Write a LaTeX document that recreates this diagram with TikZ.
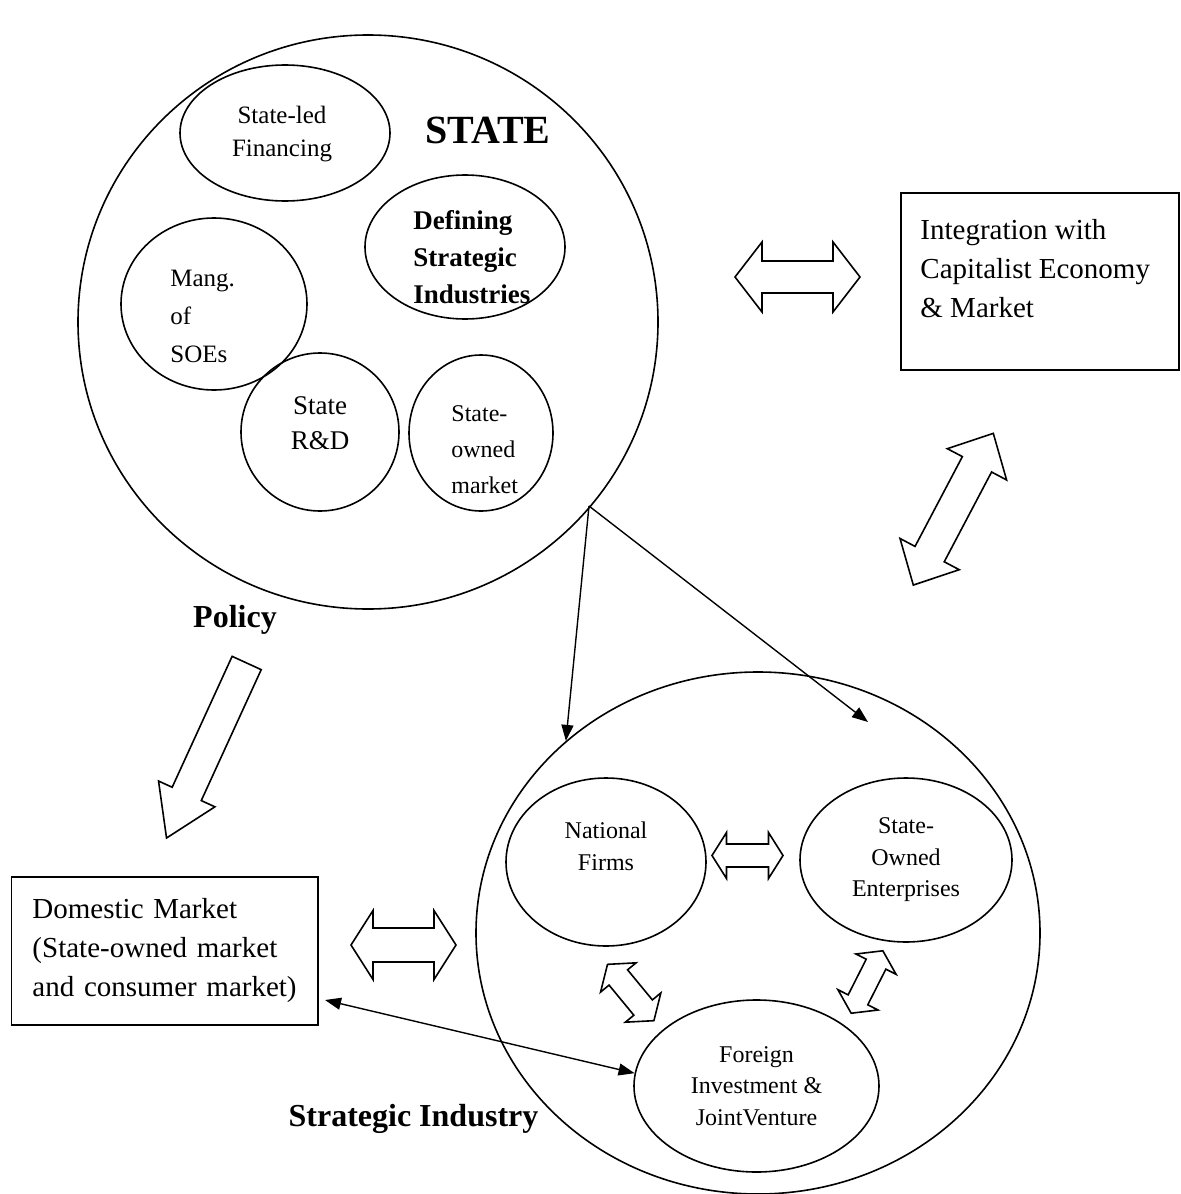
\documentclass[tikz,border=0pt]{standalone}
\usepackage{fontspec}
\setmainfont{Liberation Serif}
\usetikzlibrary{arrows.meta, shapes.geometric}

\tikzset{
  pics/dblarrow/.style n args={4}{code={
    \draw[blockarrow] (-#1/2,0) -- (-#1/2+#4,#3/2) -- (-#1/2+#4,#2/2) -- (#1/2-#4,#2/2)
      -- (#1/2-#4,#3/2) -- (#1/2,0) -- (#1/2-#4,-#3/2) -- (#1/2-#4,-#2/2)
      -- (-#1/2+#4,-#2/2) -- (-#1/2+#4,-#3/2) -- cycle;
  }},
  pics/sglarrow/.style n args={4}{code={
    \draw[blockarrow] (-#1/2,#2/2) -- (#1/2-#4,#2/2) -- (#1/2-#4,#3/2) -- (#1/2,0)
      -- (#1/2-#4,-#3/2) -- (#1/2-#4,-#2/2) -- (-#1/2,-#2/2) -- cycle;
  }},
}

\begin{document}
\begin{tikzpicture}[x=0.5pt, y=-0.5pt, >={Triangle[length=8pt, width=6pt]},
  bubble/.style={ellipse, draw, line width=0.8pt, inner sep=0pt, align=center},
  infobox/.style={rectangle, draw, line width=0.8pt, align=left, inner ysep=0pt},
  blockarrow/.style={line width=0.8pt, line join=miter},
  thinarrow/.style={line width=0.7pt},
  caption/.style={inner sep=0pt, align=left},
  bigtext/.style={font=\fontsize{14.5}{19.5}\selectfont},
  smalltext/.style={font=\fontsize{12}{15.75}\selectfont},
  heading/.style={font=\bfseries\fontsize{16}{19}\selectfont}]

\useasboundingbox (0,0) rectangle (1181,1194);

% State and its instruments
\node[bubble, minimum width=290pt, minimum height=287pt] (state) at (368,322) {};
\node[font=\bfseries\fontsize{20}{24}\selectfont] (statelbl) at (488,130) {STATE};
\node[bubble, minimum width=105pt, minimum height=68pt] (slf) at (285,133) {};
\node[caption, align=center, font=\fontsize{12.5}{16.5}\selectfont] (slftxt) at (282,134) {State-led\\Financing};
\node[bubble, minimum width=100pt, minimum height=72pt] (dsi) at (465,247) {};
\node[caption, anchor=west, font=\bfseries\fontsize{13.5}{18.5}\selectfont] (dsitxt) at (413,257)
  {Defining\\Strategic\\Industries};
\node[bubble, minimum width=93pt, minimum height=86pt] (mgs) at (214,304) {};
\node[caption, anchor=west, font=\fontsize{12.5}{19}\selectfont] (mgstxt) at (170,316) {Mang.\\of\\SOEs};
\node[bubble, minimum width=79pt, minimum height=79pt] (rnd) at (320,432) {};
\node[caption, align=center, font=\fontsize{13.5}{17.5}\selectfont] (rndtxt) at (320,423) {State\\R\&D};
\node[bubble, minimum width=72pt, minimum height=78pt] (som) at (481,433) {};
\node[caption, anchor=west, font=\fontsize{12}{18}\selectfont] (somtxt) at (451,450) {State-\\owned\\market};

% World economy
\node[infobox, minimum width=139pt, minimum height=88.5pt] (intg) at (1040,281.5) {};
\node[caption, anchor=west, bigtext] (intgtxt) at (920,269) {Integration with\\Capitalist Economy\\\& Market};
\pic at (797.5,277) {dblarrow={125}{32}{70}{27}};
\pic[rotate=62.2] at (953.3,509.2) {dblarrow={171.5}{33}{67}{35}};

% Policy
\node[heading] (policy) at (235,620) {Policy};
\pic[rotate=-114.6] at (206.6,750.5) {sglarrow={192.5}{32}{62}{48.5}};

% Domestic market
\node[infobox, bigtext, minimum height=74pt, text width=132.25pt, inner xsep=10.5pt] (dmk) at (164.75,951)
  {Domestic Market\\(State-owned market\\and consumer market)};
\pic at (403.5,945) {dblarrow={105}{34}{69}{22}};

% Strategic industry
\node[bubble, minimum width=282pt, minimum height=261pt] (si) at (758,933) {};
\node[bubble, smalltext, minimum width=100pt, minimum height=84pt] (nfm) at (606,862) {National\\Firms\\\mbox{}};
\node[bubble, smalltext, minimum width=106pt, minimum height=82pt] (soe) at (906,860) {State-\\Owned\\Enterprises};
\node[bubble, smalltext, minimum width=122.5pt, minimum height=86pt] (fiv) at (756.5,1086)
  {Foreign\\Investment \&\\JointVenture};
\node[heading, anchor=base] (silbl) at (413.5,1126) {Strategic Industry};
\pic at (747.5,855.5) {dblarrow={71}{23}{46}{14.5}};
\pic[rotate=-50.5] at (630.7,992.5) {dblarrow={73}{24}{46}{17}};
\pic[rotate=63.1] at (867,982) {dblarrow={70}{22}{45}{15}};

% Thin connectors
\coordinate (src) at (589,506);
\coordinate (soetip) at (868,722);
\coordinate (dmtip) at (325,1000);
\draw[thinarrow, ->] (src) -- (si.135);
\draw[thinarrow, ->] (src) -- (soetip);
\draw[thinarrow, <->] (dmtip) -- (fiv.174);

\end{tikzpicture}
\end{document}
